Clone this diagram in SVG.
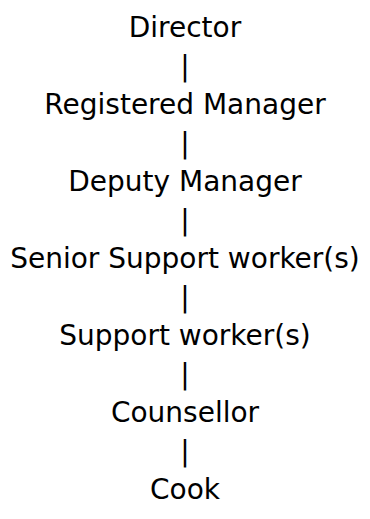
<svg xmlns="http://www.w3.org/2000/svg" width="370" height="519" viewBox="0 0 370 519">
  <style>
    .t { font-family: "DejaVu Sans", "Liberation Sans", sans-serif; font-size: 28px; fill: #000; text-anchor: middle; }
  </style>
  <rect width="370" height="519" fill="#fff"/>
  <g id="connectors">
    <text class="t" x="185" y="76">|</text>
    <text class="t" x="185" y="153">|</text>
    <text class="t" x="185" y="230">|</text>
    <text class="t" x="185" y="307">|</text>
    <text class="t" x="185" y="384">|</text>
    <text class="t" x="185" y="461">|</text>
  </g>
  <g id="director"><text class="t" x="185" y="37">Director</text></g>
  <g id="registered-manager"><text class="t" x="185" y="114">Registered Manager</text></g>
  <g id="deputy-manager"><text class="t" x="185" y="191">Deputy Manager</text></g>
  <g id="senior-support-workers"><text class="t" x="185" y="268">Senior Support worker(s)</text></g>
  <g id="support-workers"><text class="t" x="185" y="345">Support worker(s)</text></g>
  <g id="counsellor"><text class="t" x="185" y="422">Counsellor</text></g>
  <g id="cook"><text class="t" x="185" y="499">Cook</text></g>
</svg>
